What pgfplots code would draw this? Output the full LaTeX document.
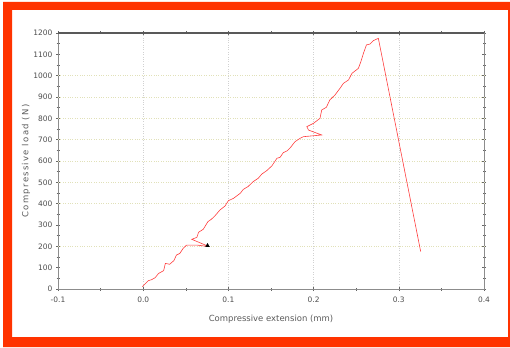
\documentclass[border=0pt]{standalone}
\usepackage{pgfplots}
\pgfplotsset{compat=1.18}
\usepackage{fontspec}
\setmainfont{DejaVu Sans}
\newfontfamily\spaced[LetterSpace=15]{DejaVu Sans}
\definecolor{frameor}{RGB}{255,51,0}
\definecolor{curve}{RGB}{255,60,60}
\definecolor{ygrid}{RGB}{225,225,185}
\begin{document}
\begin{tikzpicture}[x=1bp,y=1bp]
\useasboundingbox (0,0) rectangle (510,347);
\fill[frameor, even odd rule] (3,0) rectangle (510,345) (12,10) rectangle (508,337);
\begin{axis}[
  at={(58bp,58bp)}, anchor=south west, scale only axis,
  width=426bp, height=256bp,
  xmin=-0.1, xmax=0.4, ymin=0, ymax=1200,
  xtick={-0.1,0,0.1,0.2,0.3,0.4},
  xticklabels={-0.1,0.0,0.1,0.2,0.3,0.4},
  minor xtick={-0.05,0.05,0.15,0.25,0.35},
  ytick={0,100,...,1200},
  minor ytick={50,150,...,1150},
  tick align=center, major tick length=4bp, minor tick length=3bp,
  tick style={black!60, line width=0.6bp},
  axis line style={black!45, line width=0.8bp},
  ticklabel style={font=\fontsize{7.5}{8}\selectfont, text=black!70},
  xticklabel style={yshift=-2bp},
  /pgf/number format/assume math mode=true,
  /pgf/number format/1000 sep={},
  xmajorgrids, major x grid style={dotted, black!18, line width=0.6bp},
  extra y ticks={200,400,500,600,700,800,900,1000},
  extra y tick labels={},
  extra y tick style={ymajorgrids, major tick length=0pt, major grid style={dotted, ygrid, line width=0.7bp}},
  xlabel={Compressive extension (mm)},
  ylabel={Compressive load (N)},
  xlabel style={font=\fontsize{8.5}{9}\selectfont, text=black!65, at={(axis description cs:0.5,-0.118)}, anchor=center},
  ylabel style={font=\spaced\fontsize{8.5}{9}\selectfont, text=black!65, at={(axis description cs:-0.075,0.5)}, anchor=center},
  clip=false,
]
\addplot[curve, line width=0.6bp] coordinates {
(-0.001,11) (0.006,39) (0.010,44) (0.014,53) (0.018,73) (0.024,86)
(0.026,120) (0.031,116) (0.036,133) (0.039,159) (0.043,167) (0.047,191)
(0.051,206) (0.063,206) (0.0725,201) (0.0753,202)
(0.057,233) (0.063,242) (0.065,266) (0.0705,280) (0.076,316) (0.080,327)
(0.084,342) (0.090,370) (0.096,389) (0.100,414) (0.106,425) (0.114,449)
(0.1175,467) (0.123,480) (0.129,503) (0.135,519) (0.139,538) (0.145,555)
(0.151,577) (0.1535,592) (0.157,613) (0.1606,617) (0.1644,639) (0.169,648)
(0.173,664) (0.178,690) (0.184,706) (0.188,714) (0.2095,722) (0.194,745)
(0.192,761) (0.200,777) (0.2075,800) (0.2095,839) (0.215,852) (0.219,886)
(0.225,909) (0.231,941) (0.235,964) (0.241,980) (0.245,1011) (0.2525,1034)
(0.2555,1066) (0.2585,1105) (0.262,1144) (0.266,1148) (0.270,1164)
(0.276,1175) (0.3257,175)
};
\addplot[only marks, mark=triangle*, mark size=2.2bp, black] coordinates {(0.0755,203)};
\draw[black!65, line width=1.2bp] (rel axis cs:0,1) -- (rel axis cs:1,1);
\end{axis}
\end{tikzpicture}
\end{document}
